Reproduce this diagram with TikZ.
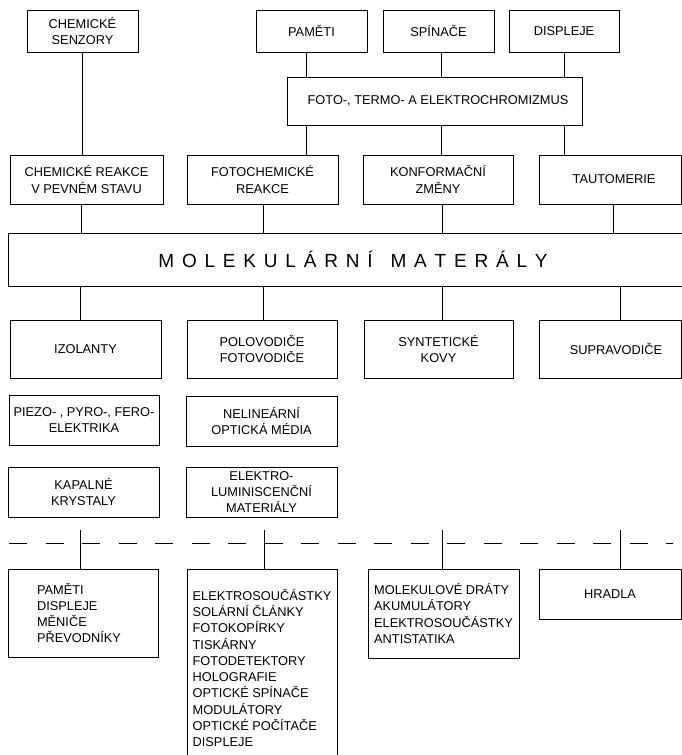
\documentclass[tikz,border=0pt]{standalone}
\usepackage{fontspec}
\setmainfont{Liberation Sans}
\newcommand\mylsp{\kern7.8pt}
\begin{document}
\begin{tikzpicture}[x=1pt,y=-1pt,
  box/.style={draw, line width=0.8pt, inner sep=0pt, align=center,
    font=\fontsize{12.8}{16.3}\selectfont},
  conn/.style={line width=0.8pt},
  dashline/.style={line width=0.8pt, dash pattern=on 18pt off 18.5pt}]
\useasboundingbox (0,0) rectangle (682,755);
\clip (0,0) rectangle (682,755);
% top row
\node[box, minimum width=111, minimum height=42] (senz) at (82.5,31) {CHEMICKÉ\\SENZORY};
\node[box, minimum width=111, minimum height=42] (pam) at (311.5,31) {PAMĚTI};
\node[box, minimum width=111, minimum height=42] (spin) at (438.5,31) {SPÍNAČE};
\node[box, minimum width=110, minimum height=42] (disp) at (564,31) {DISPLEJE};
\node[box, minimum width=295, minimum height=48] (foto) at (434.5,101) {\hspace*{7pt}FOTO-, TERMO- A ELEKTROCHROMIZMUS};
% second row
\node[box, minimum width=153, minimum height=49] (creak) at (86.5,179.5) {CHEMICKÉ REAKCE\\V PEVNÉM STAVU};
\node[box, minimum width=151, minimum height=49] (fchem) at (262.5,179.5) {FOTOCHEMICKÉ\\REAKCE};
\node[box, minimum width=150, minimum height=49] (konf) at (438,179.5) {KONFORMAČNÍ\\ZMĚNY};
\node[box, minimum width=142, minimum height=49] (taut) at (610,179.5) {\hspace*{8pt}TAUTOMERIE};
% main box
\node[box, minimum width=690, minimum height=53, font=\fontsize{19}{22}\selectfont] (mol) at (353,259.5)
  {M\mylsp O\mylsp L\mylsp E\mylsp K\mylsp U\mylsp L\mylsp Á\mylsp R\mylsp N\mylsp Í\kern18pt M\mylsp A\mylsp T\mylsp E\mylsp R\mylsp Á\mylsp L\mylsp Y};
% third row
\node[box, minimum width=151, minimum height=58] (izol) at (85.5,349) {IZOLANTY};
\node[box, minimum width=150, minimum height=58] (polo) at (262,349) {POLOVODIČE\\FOTOVODIČE};
\node[box, minimum width=149, minimum height=58] (synt) at (438.5,349) {SYNTETICKÉ\\KOVY};
\node[box, minimum width=142, minimum height=58] (supra) at (610,349) {\hspace*{12pt}SUPRAVODIČE};
% further boxes
\node[box, minimum width=150, minimum height=50] (piezo) at (84,420) {PIEZO- , PYRO-, FERO-\\ELEKTRIKA};
\node[box, minimum width=151, minimum height=50] (nelin) at (261.5,421) {NELINEÁRNÍ\\OPTICKÁ MÉDIA};
\node[box, minimum width=151, minimum height=50] (kapal) at (83.5,492) {KAPALNÉ\\KRYSTALY};
\node[box, minimum width=151, minimum height=50] (elum) at (261.5,492) {ELEKTRO-\\LUMINISCENČNÍ\\MATERIÁLY};
% bottom boxes
\node[box, minimum width=150, minimum height=88, align=left] (b1) at (83,613) {PAMĚTI\\DISPLEJE\\MĚNIČE\\PŘEVODNÍKY\hspace*{8pt}};
\node[box, minimum width=150, minimum height=193] (b2) at (262,665.5) {};
\node[box, draw=none, align=left] (b2t) at (262,668) {ELEKTROSOUČÁSTKY\\SOLÁRNÍ ČLÁNKY\\FOTOKOPÍRKY\\TISKÁRNY\\FOTODETEKTORY\\HOLOGRAFIE\\OPTICKÉ SPÍNAČE\\MODULÁTORY\\OPTICKÉ POČÍTAČE\\DISPLEJE};
\node[box, minimum width=151, minimum height=89, align=left] (b3) at (443.5,613.5) {MOLEKULOVÉ DRÁTY\\AKUMULÁTORY\\ELEKTROSOUČÁSTKY\hspace*{6pt}\\ANTISTATIKA};
\node[box, minimum width=142, minimum height=50] (b4) at (610,594) {HRADLA};
% connectors top
\draw[conn] (senz.south) -- (senz.south |- creak.north);
\draw[conn] ([xshift=-5.5pt]pam.south) -- ([xshift=-5.5pt]pam.south |- foto.north);
\draw[conn] ([xshift=2.5pt]spin.south) -- ([xshift=2.5pt]spin.south |- foto.north);
\draw[conn] (disp.south) -- (disp.south |- foto.north);
\draw[conn] ([xshift=-5.5pt]pam.south |- foto.south) -- ([xshift=-5.5pt]pam.south |- fchem.north);
\draw[conn] ([xshift=2.5pt]spin.south |- foto.south) -- ([xshift=2.5pt]spin.south |- konf.north);
\draw[conn] (disp.south |- foto.south) -- (disp.south |- taut.north);
% row2 to main
\draw[conn] ([xshift=-5.5pt]creak.south) -- ([xshift=-5.5pt]creak.south |- mol.north);
\draw[conn] ([xshift=0.5pt]fchem.south) -- ([xshift=0.5pt]fchem.south |- mol.north);
\draw[conn] ([xshift=4pt]konf.south) -- ([xshift=4pt]konf.south |- mol.north);
\draw[conn] ([xshift=3pt]taut.south) -- ([xshift=3pt]taut.south |- mol.north);
% main to row3
\draw[conn] ([xshift=-5.5pt]izol.north |- mol.south) -- ([xshift=-5.5pt]izol.north);
\draw[conn] ([xshift=1pt]polo.north |- mol.south) -- ([xshift=1pt]polo.north);
\draw[conn] ([xshift=3.5pt]synt.north |- mol.south) -- ([xshift=3.5pt]synt.north);
\draw[conn] ([xshift=10pt]supra.north |- mol.south) -- ([xshift=10pt]supra.north);
% dashed separator
\coordinate (dl) at (9,543);
\coordinate (dr) at (673,543);
\draw[dashline] (dl) -- (dr);
\coordinate (t1) at (80,530);
\coordinate (t2) at (264,530);
\coordinate (t3) at (442,530);
\coordinate (t4) at (620,530);
\draw[conn] (t1) -- (t1 |- b1.north);
\draw[conn] (t2) -- (t2 |- b2.north);
\draw[conn] (t3) -- (t3 |- b3.north);
\draw[conn] (t4) -- (t4 |- b4.north);
\end{tikzpicture}
\end{document}
